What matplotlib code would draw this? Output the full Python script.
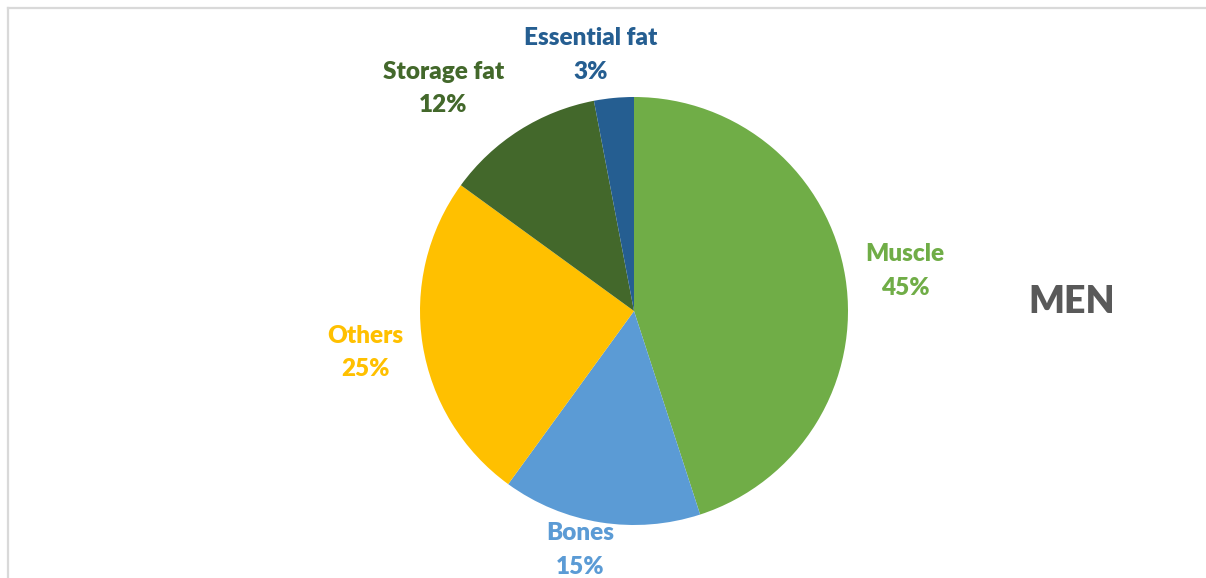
import matplotlib
matplotlib.use("Agg")
import matplotlib.pyplot as plt
from matplotlib.lines import Line2D
import numpy as np

labels = ["Muscle", "Bones", "Others", "Storage fat", "Essential fat"]
values = [45, 15, 25, 12, 3]
colors = ["#70AD47", "#5B9BD5", "#FFC000", "#43682B", "#255E91"]

# label placement (distance from centre in radii, angle nudge in degrees)
label_dist = [1.28, 1.145, 1.27, 1.37, 1.213]
label_shift = [-0.6, -3.7, -0.3, 8.2, 4.1]

plt.rcParams['font.family'] = ['Lato', 'DejaVu Sans']

W, H = 1206, 578
fig = plt.figure(figsize=(W / 100, H / 100), dpi=100)

# light grey chart frame, only top and left edges are inside the crop
fx, fy = 7.5 / W, 1 - 7.5 / H
fig.add_artist(Line2D([fx, 1.0], [fy, fy], transform=fig.transFigure,
                      color="#d9d9d9", linewidth=1.6))
fig.add_artist(Line2D([fx, fx], [0.0, fy], transform=fig.transFigure,
                      color="#d9d9d9", linewidth=1.6))

cx, cy, r = 634, 311, 214
ax = fig.add_axes([(cx - r) / W, (H - cy - r) / H, 2 * r / W, 2 * r / H])

wedges, _ = ax.pie(values, colors=colors, startangle=90, counterclock=False,
                   radius=1, wedgeprops=dict(linewidth=0))
ax.set_xlim(-1, 1)
ax.set_ylim(-1, 1)
ax.set_aspect("equal")
ax.axis("off")

for w, lab, v, col, d, s in zip(wedges, labels, values, colors, label_dist, label_shift):
    mid = np.deg2rad((w.theta1 + w.theta2) / 2 + s)
    ax.text(d * np.cos(mid), d * np.sin(mid), f"{lab}\n{v}%",
            ha="center", va="center", color=col, fontsize=17.5,
            fontweight="heavy", linespacing=1.62, clip_on=False)

fig.text(1072 / W, 1 - 302 / H, "MEN", ha="center", va="center",
         fontsize=27, fontweight="heavy", color="#595959")

fig.savefig("out.png", dpi=100)
